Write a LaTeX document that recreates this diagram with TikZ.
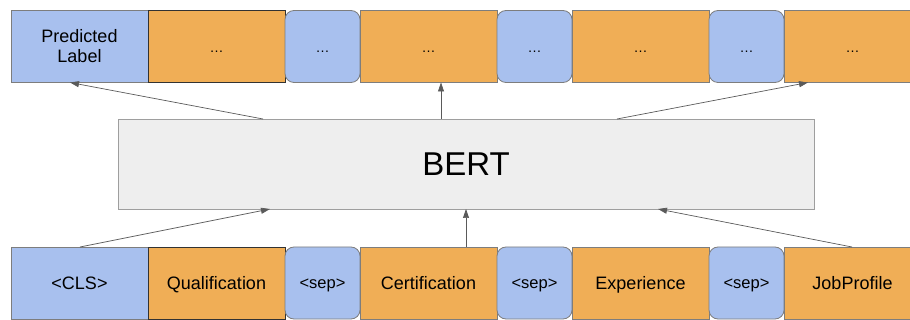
\documentclass[tikz,border=0pt]{standalone}
\usepackage{fontspec}
\setmainfont{Liberation Sans}
\usetikzlibrary{arrows.meta}
\definecolor{tokblue}{RGB}{168,192,238}
\definecolor{tokorange}{RGB}{240,174,86}
\definecolor{bertfill}{RGB}{238,238,238}
\definecolor{bertdraw}{RGB}{158,158,158}
\definecolor{boxgray}{RGB}{125,125,125}
\definecolor{boxdark}{RGB}{50,50,50}
\definecolor{arrgray}{RGB}{90,90,90}
\tikzset{
  tok/.style={inner sep=0pt, outer sep=0pt, line width=0.8pt, minimum height=72pt, text depth=0pt},
  bluebox/.style={tok, fill=tokblue, draw=boxgray, minimum width=137pt},
  orangebox/.style={tok, fill=tokorange, draw=boxgray, minimum width=137pt},
  darkorange/.style={tok, fill=tokorange, draw=boxdark, minimum width=137pt},
  sepbox/.style={tok, fill=tokblue, draw=boxgray, minimum width=75pt, rounded corners=9pt},
  bertbox/.style={inner sep=0pt, outer sep=0pt, fill=bertfill, draw=bertdraw, line width=0.9pt, minimum width=696pt, minimum height=90pt, text height=23.4pt, text depth=0pt},
  arr/.style={draw=arrgray, line width=0.7pt, -{Triangle[length=9pt,width=6pt]}},
  toptext/.style={font=\fontsize{14}{14}\selectfont, text height=12pt},
  wordtext/.style={font=\fontsize{18}{18}\selectfont, text height=12.9pt},
  septext/.style={font=\fontsize{16.5}{16.5}\selectfont, text height=11.8pt},
}
\begin{document}
\begin{tikzpicture}[x=1pt,y=-1pt]
\useasboundingbox (0,0) rectangle (910,320);
% top row
\node[bluebox, text depth=, align=center, font=\fontsize{18}{20}\selectfont] (pred) at (79.5,46.5) {Predicted\\Label};
\node[darkorange, toptext] (t2) at (216.5,46.5) {\dots};
\node[sepbox, toptext] (t3) at (322.5,46.5) {\dots};
\node[orangebox, toptext] (t4) at (428.5,46.5) {\dots};
\node[sepbox, toptext] (t5) at (534.5,46.5) {\dots};
\node[orangebox, toptext] (t6) at (640.5,46.5) {\dots};
\node[sepbox, toptext] (t7) at (746.5,46.5) {\dots};
\node[orangebox, toptext] (t8) at (852.5,46.5) {\dots};
% BERT
\node[bertbox, font=\fontsize{33}{33}\selectfont] (bert) at (466,164) {BERT};
% bottom row
\node[bluebox, wordtext] (cls) at (79.5,283) {<CLS>};
\node[darkorange, wordtext] (qual) at (216.5,283) {Qualification};
\node[sepbox, septext] (s1) at (322.5,283) {<sep>};
\node[orangebox, wordtext] (cert) at (428.5,283) {Certification};
\node[sepbox, septext] (s2) at (534.5,283) {<sep>};
\node[orangebox, wordtext] (exp) at (640.5,283) {Experience};
\node[sepbox, septext] (s3) at (746.5,283) {<sep>};
\node[orangebox, wordtext] (job) at (852.5,283) {JobProfile};
% arrows up from BERT
\draw[arr] ([xshift=145pt]bert.north west) -- ([xshift=59pt]pred.south west);
\draw[arr] ([xshift=323pt]bert.north west) -- ([xshift=81pt]t4.south west);
\draw[arr] ([xshift=499pt]bert.north west) -- ([xshift=24pt]t8.south west);
% arrows into BERT
\draw[arr] ([xshift=69pt]cls.north west) -- ([xshift=152pt]bert.south west);
\draw[arr] ([xshift=106pt]cert.north west) -- ([xshift=348pt]bert.south west);
\draw[arr] ([xshift=68pt]job.north west) -- ([xshift=540pt]bert.south west);
\end{tikzpicture}
\end{document}
